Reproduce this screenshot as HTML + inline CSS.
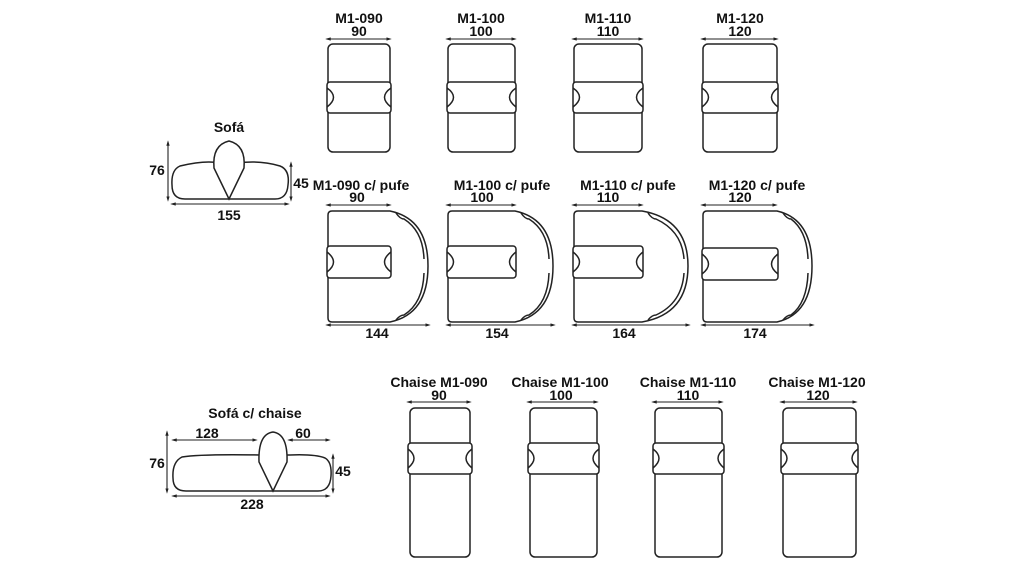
<!DOCTYPE html>
<html><head><meta charset="utf-8"><style>
html,body{margin:0;padding:0;background:#fff;width:1024px;height:576px;overflow:hidden}
svg{display:block}
text{font-family:"Liberation Sans",Arial,sans-serif;font-weight:bold;font-size:14px;fill:#111;text-anchor:middle}
.s{fill:none;stroke:#222;stroke-width:1.5}
.w{fill:#fff;stroke:#222;stroke-width:1.5}
.d{stroke:#222;stroke-width:1.1;fill:none;marker-start:url(#a);marker-end:url(#a)}
</style></head><body>
<svg width="1024" height="576" viewBox="0 0 1024 576" xmlns="http://www.w3.org/2000/svg">
<defs>
<marker id="a" viewBox="0 0 10 10" refX="5" refY="5" markerWidth="5" markerHeight="5" orient="auto-start-reverse"><path d="M0,2 L10,5 L0,8 z" fill="#222"/></marker>
</defs>

<!-- Sofa -->
<text x="229" y="132">Sofá</text>
<path class="w" d="M180,166 Q205,160 220,163 L238,163 Q260,160 280,166 Q290,170 288,185 Q287,199 275,199 L185,199 Q172,199 172,185 Q171,170 180,166 z"/>
<path class="w" d="M229,199 L214,168 Q212,145 229,141 Q246,145 244,168 z"/>
<line class="d" x1="168" y1="143" x2="168" y2="199"/>
<text x="157" y="175">76</text>
<line class="d" x1="291" y1="164" x2="291" y2="199"/>
<text x="301" y="188">45</text>
<line class="d" x1="173" y1="204" x2="287" y2="204"/>
<text x="229" y="220">155</text>

<!-- Sofa chaise -->
<text x="255" y="418">Sofá c/ chaise</text>
<path class="w" d="M182,457 Q200,454 260,455 L290,455 Q315,454 325,458 Q332,462 331,476 Q330,491 318,491 L186,491 Q173,491 173,478 Q172,462 182,457 z"/>
<path class="w" d="M273,491 L259,462 Q258,434 273,432 Q288,434 287,462 z"/>
<line class="d" x1="167" y1="433" x2="167" y2="491"/>
<text x="157" y="468">76</text>
<line class="d" x1="174" y1="440" x2="255" y2="440"/>
<text x="207" y="438">128</text>
<line class="d" x1="290" y1="440" x2="328" y2="440"/>
<text x="303" y="438">60</text>
<line class="d" x1="333" y1="456" x2="333" y2="491"/>
<text x="343" y="476">45</text>
<line class="d" x1="174" y1="496" x2="328" y2="496"/>
<text x="252" y="509">228</text>

<!-- top modules -->
<g transform="translate(328,44)">
<rect class="s" x="0" y="0" width="62" height="108" rx="5"/>
<rect class="w" x="-1" y="38" width="64" height="31" rx="3"/>
<path class="s" d="M-1,44 Q12,53 -1,63 M63,44 Q50,53 63,63"/>
</g>
<text x="359" y="23">M1-090</text><text x="359" y="36">90</text>
<line class="d" x1="328" y1="39" x2="389" y2="39"/>

<g transform="translate(448,44)">
<rect class="s" x="0" y="0" width="67" height="108" rx="5"/>
<rect class="w" x="-1" y="38" width="69" height="31" rx="3"/>
<path class="s" d="M-1,44 Q12,53 -1,63 M68,44 Q55,53 68,63"/>
</g>
<text x="481" y="23">M1-100</text><text x="481" y="36">100</text>
<line class="d" x1="448" y1="39" x2="514" y2="39"/>

<g transform="translate(574,44)">
<rect class="s" x="0" y="0" width="68" height="108" rx="5"/>
<rect class="w" x="-1" y="38" width="70" height="31" rx="3"/>
<path class="s" d="M-1,44 Q12,53 -1,63 M69,44 Q56,53 69,63"/>
</g>
<text x="608" y="23">M1-110</text><text x="608" y="36">110</text>
<line class="d" x1="574" y1="39" x2="641" y2="39"/>

<g transform="translate(703,44)">
<rect class="s" x="0" y="0" width="74" height="108" rx="5"/>
<rect class="w" x="-1" y="38" width="76" height="31" rx="3"/>
<path class="s" d="M-1,44 Q12,53 -1,63 M75,44 Q62,53 75,63"/>
</g>
<text x="740" y="23">M1-120</text><text x="740" y="36">120</text>
<line class="d" x1="703" y1="39" x2="776" y2="39"/>

<!-- pufe modules -->
<g transform="translate(328,211)">
<path class="s" d="M4,0 L62,0 Q100,8 100,55 Q100,103 62,111 L4,111 Q0,111 0,107 L0,4 Q0,0 4,0 z"/>
<path class="s" d="M68,2 Q72,8 76,8 Q95,20 96,48 M96,62 Q95,92 76,104 Q72,104 68,109"/>
<rect class="w" x="-1" y="35" width="64" height="32" rx="3"/>
<path class="s" d="M-1,41 Q12,51 -1,61 M63,41 Q50,51 63,61"/>
</g>
<text x="361" y="190">M1-090 c/ pufe</text><text x="357" y="202">90</text>
<line class="d" x1="328" y1="205" x2="389" y2="205"/>
<line class="d" x1="328" y1="325" x2="428" y2="325"/>
<text x="377" y="338">144</text>

<g transform="translate(448,211)">
<path class="s" d="M4,0 L67,0 Q105,8 105,55 Q105,103 67,111 L4,111 Q0,111 0,107 L0,4 Q0,0 4,0 z"/>
<path class="s" d="M73,2 Q77,8 81,8 Q100,20 101,48 M101,62 Q100,92 81,104 Q77,104 73,109"/>
<rect class="w" x="-1" y="35" width="69" height="32" rx="3"/>
<path class="s" d="M-1,41 Q12,51 -1,61 M68,41 Q55,51 68,61"/>
</g>
<text x="502" y="190">M1-100 c/ pufe</text><text x="482" y="202">100</text>
<line class="d" x1="448" y1="205" x2="514" y2="205"/>
<line class="d" x1="448" y1="325" x2="553" y2="325"/>
<text x="497" y="338">154</text>

<g transform="translate(574,211)">
<path class="s" d="M4,0 L68,0 Q114,8 114,55 Q114,103 68,111 L4,111 Q0,111 0,107 L0,4 Q0,0 4,0 z"/>
<path class="s" d="M74,2 Q78,8 82,8 Q108,20 110,48 M110,62 Q108,92 82,104 Q78,104 74,109"/>
<rect class="w" x="-1" y="35" width="70" height="32" rx="3"/>
<path class="s" d="M-1,41 Q12,51 -1,61 M69,41 Q56,51 69,61"/>
</g>
<text x="628" y="190">M1-110 c/ pufe</text><text x="608" y="202">110</text>
<line class="d" x1="574" y1="205" x2="641" y2="205"/>
<line class="d" x1="574" y1="325" x2="688" y2="325"/>
<text x="624" y="338">164</text>

<g transform="translate(703,211)">
<path class="s" d="M4,0 L74,0 Q109,8 109,55 Q109,103 74,111 L4,111 Q0,111 0,107 L0,4 Q0,0 4,0 z"/>
<path class="s" d="M80,2 Q84,8 88,8 Q104,20 105,48 M105,62 Q104,92 88,104 Q84,104 80,109"/>
<rect class="w" x="-1" y="37" width="76" height="32" rx="3"/>
<path class="s" d="M-1,43 Q12,53 -1,63 M75,43 Q62,53 75,63"/>
</g>
<text x="757" y="190">M1-120 c/ pufe</text><text x="740" y="202">120</text>
<line class="d" x1="703" y1="205" x2="775" y2="205"/>
<line class="d" x1="703" y1="325" x2="812" y2="325"/>
<text x="755" y="338">174</text>

<!-- chaise modules -->
<g transform="translate(410,408)">
<rect class="s" x="0" y="0" width="60" height="149" rx="5"/>
<rect class="w" x="-2" y="35" width="64" height="31" rx="3"/>
<path class="s" d="M-2,41 Q10,50 -2,60 M62,41 Q50,50 62,60"/>
</g>
<text x="439" y="387">Chaise M1-090</text><text x="439" y="400">90</text>
<line class="d" x1="409" y1="402" x2="469" y2="402"/>

<g transform="translate(530,408)">
<rect class="s" x="0" y="0" width="67" height="149" rx="5"/>
<rect class="w" x="-2" y="35" width="71" height="31" rx="3"/>
<path class="s" d="M-2,41 Q10,50 -2,60 M69,41 Q57,50 69,60"/>
</g>
<text x="560" y="387">Chaise M1-100</text><text x="561" y="400">100</text>
<line class="d" x1="529" y1="402" x2="596" y2="402"/>

<g transform="translate(655,408)">
<rect class="s" x="0" y="0" width="67" height="149" rx="5"/>
<rect class="w" x="-2" y="35" width="71" height="31" rx="3"/>
<path class="s" d="M-2,41 Q10,50 -2,60 M69,41 Q57,50 69,60"/>
</g>
<text x="688" y="387">Chaise M1-110</text><text x="688" y="400">110</text>
<line class="d" x1="654" y1="402" x2="721" y2="402"/>

<g transform="translate(783,408)">
<rect class="s" x="0" y="0" width="73" height="149" rx="5"/>
<rect class="w" x="-2" y="35" width="77" height="31" rx="3"/>
<path class="s" d="M-2,41 Q10,50 -2,60 M75,41 Q63,50 75,60"/>
</g>
<text x="817" y="387">Chaise M1-120</text><text x="818" y="400">120</text>
<line class="d" x1="782" y1="402" x2="855" y2="402"/>
</svg>
</body></html>
